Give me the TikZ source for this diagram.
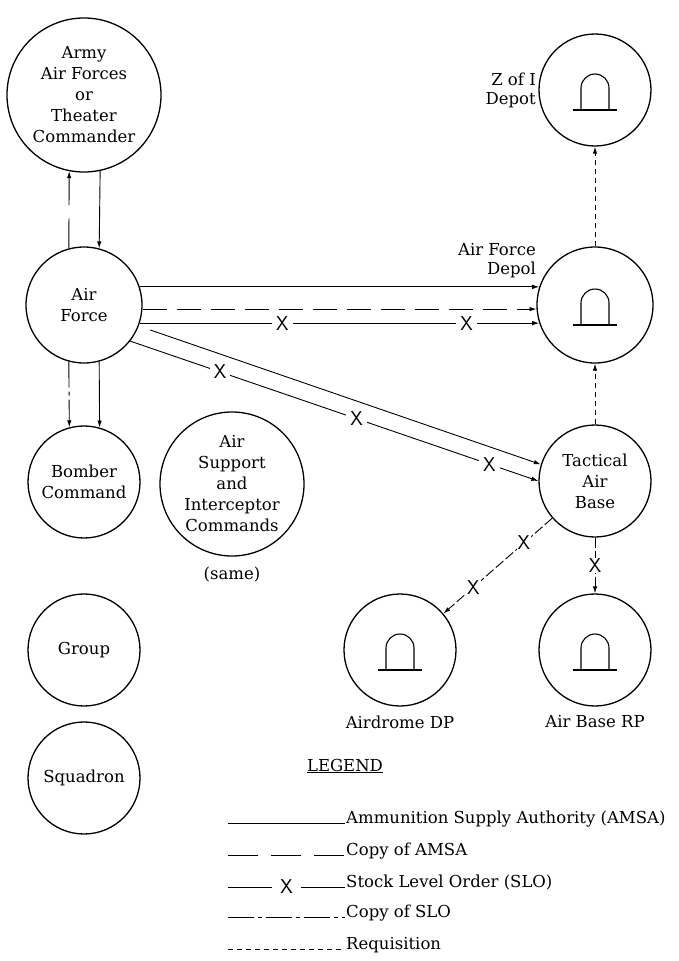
\documentclass[tikz,border=0pt]{standalone}
\usepackage{fontspec}
\setmainfont{DejaVu Serif}
\usetikzlibrary{arrows.meta}

\begin{document}
\begin{tikzpicture}[x=1pt, y=-1pt,
    unit/.style={draw, circle, line width=1.3pt, align=center, minimum size=112pt, inner sep=0pt, font=\fontsize{16.5}{21}\selectfont},
    lbl/.style={align=center, inner sep=1pt, font=\fontsize{16.5}{19}\selectfont},
    arr/.style={-{Latex[length=7pt,width=4.5pt]}},
    amsa/.style={line width=0.9pt},
    camsa/.style={amsa, dash pattern=on 30pt off 13pt},
    slo/.style={amsa},
    cslo/.style={amsa, dash pattern=on 26pt off 4pt on 4pt off 4pt},
    req/.style={amsa, dash pattern=on 5pt off 4pt},
    slod/.style={amsa, dash pattern=on 10pt off 3pt},
    xmark/.style={fill=white, inner xsep=4pt, inner ysep=1pt, font=\fontsize{20}{20}\selectfont\sffamily}]
    \useasboundingbox (0,0) rectangle (678,961);

    % units
    \node[unit, minimum size=154pt] (aaf) at (84,95) {Army\\Air Forces\\or\\Theater\\Commander};
    \node[unit, minimum size=116pt] (af) at (84,305) {Air\\Force};
    \node[unit] (bc) at (84,482) {Bomber\\Command};
    \node[unit, minimum size=144pt] (asic) at (232,484) {Air\\Support\\and\\Interceptor\\Commands};
    \node[unit] (grp) at (84,650) {Group};
    \node[unit] (sqd) at (84,778) {Squadron};

    % depots
    \node[unit] (zoi) at (595,90) {};
    \node[unit, minimum size=116pt] (afd) at (595,305) {};
    \node[unit] (tab) at (595,481) {Tactical\\Air\\Base};
    \node[unit] (adp) at (400,650) {};
    \node[unit] (abrp) at (595,650) {};
    \foreach \d in {zoi,afd,adp,abrp}{
        \draw[line width=1.1pt] ([shift={(-14,20)}]\d.center) -- ++(0,-22) arc[start angle=180, end angle=360, radius=14] -- ++(0,22);
        \draw[line width=1.1pt] ([shift={(-22,20)}]\d.center) -- ++(44,0);
    }

    \node[lbl, align=right, anchor=east] (zoilbl) at (537,90) {Z of I\\Depot};
    \node[lbl, align=right, anchor=east] (afdlbl) at (537,261) {Air Force\\Depol};
    \node[lbl] (same) at (232,575) {(same)};
    \node[lbl] (adplbl) at (400,722) {Airdrome DP};
    \node[lbl] (abrplbl) at (595,722) {Air Base RP};

    % channels
    \draw[camsa, arr] (af.105) -- (aaf.-101.2);
    \draw[amsa, arr] (aaf.-78.8) -- (af.75);
    \draw[cslo, arr] (af.-105) -- (bc.105.5);
    \draw[amsa, arr] (af.-75) -- (bc.74.5);
    \draw[amsa, arr] (af.18) -- (afd.162);
    \draw[camsa, dash pattern=on 24pt off 10pt, arr] (af.-4) -- (afd.184);
    \draw[slo, arr] (af.-18) -- node[xmark, pos=.357]{X} node[xmark, pos=.818]{X} (afd.198);
    \draw[amsa, arr, shorten <=12pt] (af.-21.8) -- (tab.163.4);
    \draw[slo, arr] (af.-38) -- node[xmark, pos=.22]{X} node[xmark, pos=.555]{X} node[xmark, pos=.88]{X} (tab.180);
    \draw[req, arr] (afd.north) -- (zoi.south);
    \draw[req, arr] (tab.north) -- (afd.south);
    \draw[slod, arr] (tab.-139) -- node[xmark, inner xsep=1pt, pos=.26]{X} node[xmark, inner xsep=1pt, pos=.725]{X} (adp.40.4);
    \draw[slod, arr] (tab.south) -- node[xmark, inner xsep=1pt, pos=.5]{X} (abrp.north);

    % legend
    \node[lbl] (legend) at (345,766) {\underline{LEGEND}};
    \node[lbl, anchor=base west] (t1) at (345,823) {Ammunition Supply Authority (AMSA)};
    \node[lbl, anchor=base west] (t2) at (345,855) {Copy of AMSA};
    \node[lbl, anchor=base west] (t3) at (345,887) {Stock Level Order (SLO)};
    \node[lbl, anchor=base west] (t4) at (345,917) {Copy of SLO};
    \node[lbl, anchor=base west] (t5) at (345,949) {Requisition};
    \coordinate (l1) at (228,823);
    \coordinate (l2) at (228,855);
    \coordinate (l3) at (228,887);
    \coordinate (l4) at (228,917);
    \coordinate (l5) at (228,949);
    \draw[amsa] (l1) -- (l1 -| t1.west);
    \draw[camsa] (l2) -- (l2 -| t2.west);
    \draw[slo] (l3) -- node[xmark, inner xsep=8pt, pos=.5]{X} (l3 -| t3.west);
    \draw[cslo] (l4) -- (l4 -| t4.west);
    \draw[req] (l5) -- (l5 -| t5.west);
\end{tikzpicture}
\end{document}
